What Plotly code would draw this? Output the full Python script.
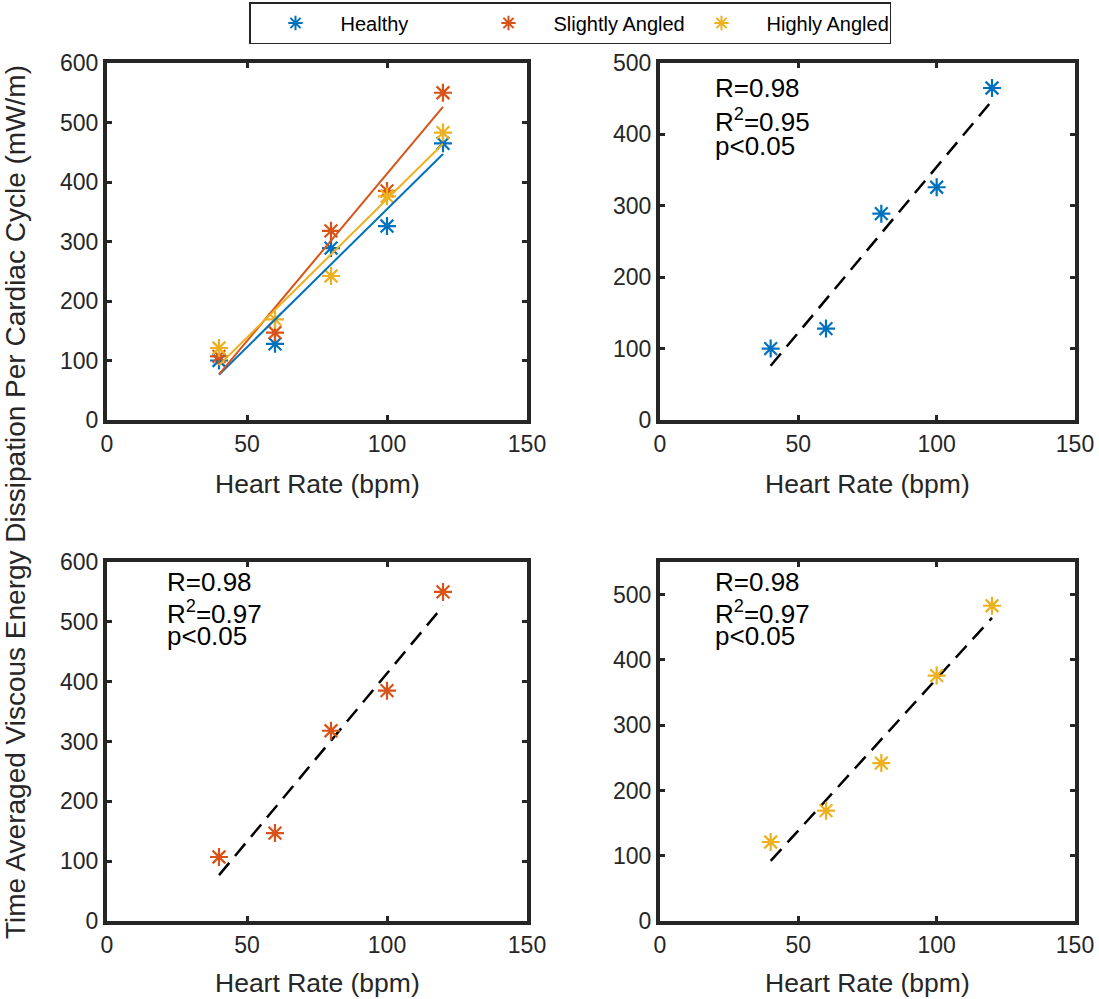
import numpy as np
import plotly.graph_objects as go

heart_rate = [40, 60, 80, 100, 120]
healthy = [100, 128, 289, 326, 465]
slightly_angled = [107, 147, 318, 385, 550]
highly_angled = [121, 169, 242, 376, 483]

series_names = ["Healthy", "Slightly Angled", "Highly Angled"]
series_values = [healthy, slightly_angled, highly_angled]
series_colors = ["#0072BD", "#D95319", "#EDB120"]
stats_lines = [["R=0.98", "R<sup>2</sup>=0.95", "p<0.05"],
               ["R=0.98", "R<sup>2</sup>=0.97", "p<0.05"],
               ["R=0.98", "R<sup>2</sup>=0.97", "p<0.05"]]
x_title = "Heart Rate (bpm)"
y_title = "Time Averaged Viscous Energy Dissipation Per Cardiac Cycle (mW/m)"

W, H = 1099, 999
MT = 60  # top margin reserved for the legend
FONT = "Liberation Sans, Arial, sans-serif"
TXT = "#262626"

def px(x):
    return x / W

def py(y):
    # pixel row -> paper fraction (paper spans rows MT..H)
    return (H - y) / (H - MT)

fig = go.Figure()

xdom = {1: [px(107), px(527)], 2: [px(660), px(1075)], 3: [px(107), px(527)], 4: [px(660), px(1075)]}
ydom = {1: [py(420), py(63)], 2: [py(420), py(63)], 3: [py(921), py(562)], 4: [py(921), py(562)]}
yrange = {1: [0, 600], 2: [0, 500], 3: [0, 600], 4: [0, 550]}

def fit_line(xs, ys):
    m, b = np.polyfit(xs, ys, 1)
    xx = np.array([min(xs), max(xs)])
    return xx, m * xx + b

def marker_style(c):
    return dict(symbol="asterisk-open", size=15, color=c, line=dict(color=c, width=2.2))

for name, vals, col in zip(series_names, series_values, series_colors):
    fig.add_trace(go.Scatter(x=heart_rate, y=vals, mode="markers", name=name,
                             marker=marker_style(col), xaxis="x", yaxis="y", showlegend=True))
for name, vals, col in zip(series_names, series_values, series_colors):
    fx, fy = fit_line(heart_rate, vals)
    fig.add_trace(go.Scatter(x=fx, y=fy, mode="lines", line=dict(color=col, width=2),
                             xaxis="x", yaxis="y", showlegend=False, hoverinfo="skip"))

for i, (vals, col) in enumerate(zip(series_values, series_colors)):
    k = i + 2
    fx, fy = fit_line(heart_rate, vals)
    fig.add_trace(go.Scatter(x=fx, y=fy, mode="lines", line=dict(color="black", width=2.5, dash="16px,9px"),
                             xaxis=f"x{k}", yaxis=f"y{k}", showlegend=False, hoverinfo="skip"))
    fig.add_trace(go.Scatter(x=heart_rate, y=vals, mode="markers", marker=marker_style(col),
                             xaxis=f"x{k}", yaxis=f"y{k}", showlegend=False))

axis_common = dict(showline=True, linewidth=4, linecolor="#262626", mirror="ticks",
                   ticks="inside", ticklen=5, tickwidth=3, tickcolor="#262626",
                   showgrid=False, zeroline=False, automargin=False,
                   tickfont=dict(family=FONT, size=23, color=TXT))

layout = {}
for k in range(1, 5):
    sx = "" if k == 1 else str(k)
    layout[f"xaxis{sx}"] = dict(axis_common, domain=xdom[k], range=[0, 150], tickvals=[0, 50, 100, 150],
                                anchor=f"y{sx}")
    layout[f"yaxis{sx}"] = dict(axis_common, domain=ydom[k], range=yrange[k],
                                tickvals=list(range(0, yrange[k][1] + 1, 100)), anchor=f"x{sx}")

fig.update_layout(**layout)

annotations = []
for k, yy in [(1, 484), (2, 484), (3, 983), (4, 983)]:
    annotations.append(dict(x=(xdom[k][0] + xdom[k][1]) / 2, y=py(yy), xref="paper", yref="paper",
                            xanchor="center", yanchor="middle", text=x_title, showarrow=False,
                            font=dict(family=FONT, size=26.5, color=TXT)))
ann_pos = [(713, [88, 120, 146]), (165, [582, 612, 636]), (713, [582, 612, 636])]
for (ax_, ys), lines in zip(ann_pos, stats_lines):
    for yy, t in zip(ys, lines):
        annotations.append(dict(x=px(ax_), y=py(yy), xref="paper", yref="paper", xanchor="left", yanchor="middle",
                                text=t, showarrow=False, align="left",
                                font=dict(family=FONT, size=26, color="black")))
annotations.append(dict(x=px(15), y=py(502), xref="paper", yref="paper", xanchor="center", yanchor="middle",
                        text=y_title, textangle=-90, showarrow=False,
                        font=dict(family=FONT, size=28, color=TXT)))

fig.update_layout(
    width=W, height=H,
    margin=dict(l=0, r=0, t=MT, b=0, pad=0),
    paper_bgcolor="white", plot_bgcolor="white",
    annotations=annotations,
    showlegend=True,
    legend=dict(orientation="h", xref="container", yref="container",
                x=px(570), y=1 - 2 / H, xanchor="center", yanchor="top",
                bordercolor="#262626", borderwidth=1.5, bgcolor="white",
                font=dict(family=FONT, size=20, color="black"),
                itemwidth=80, entrywidth=118, entrywidthmode="pixels", itemsizing="constant"),
)

fig.write_html("out.html")
